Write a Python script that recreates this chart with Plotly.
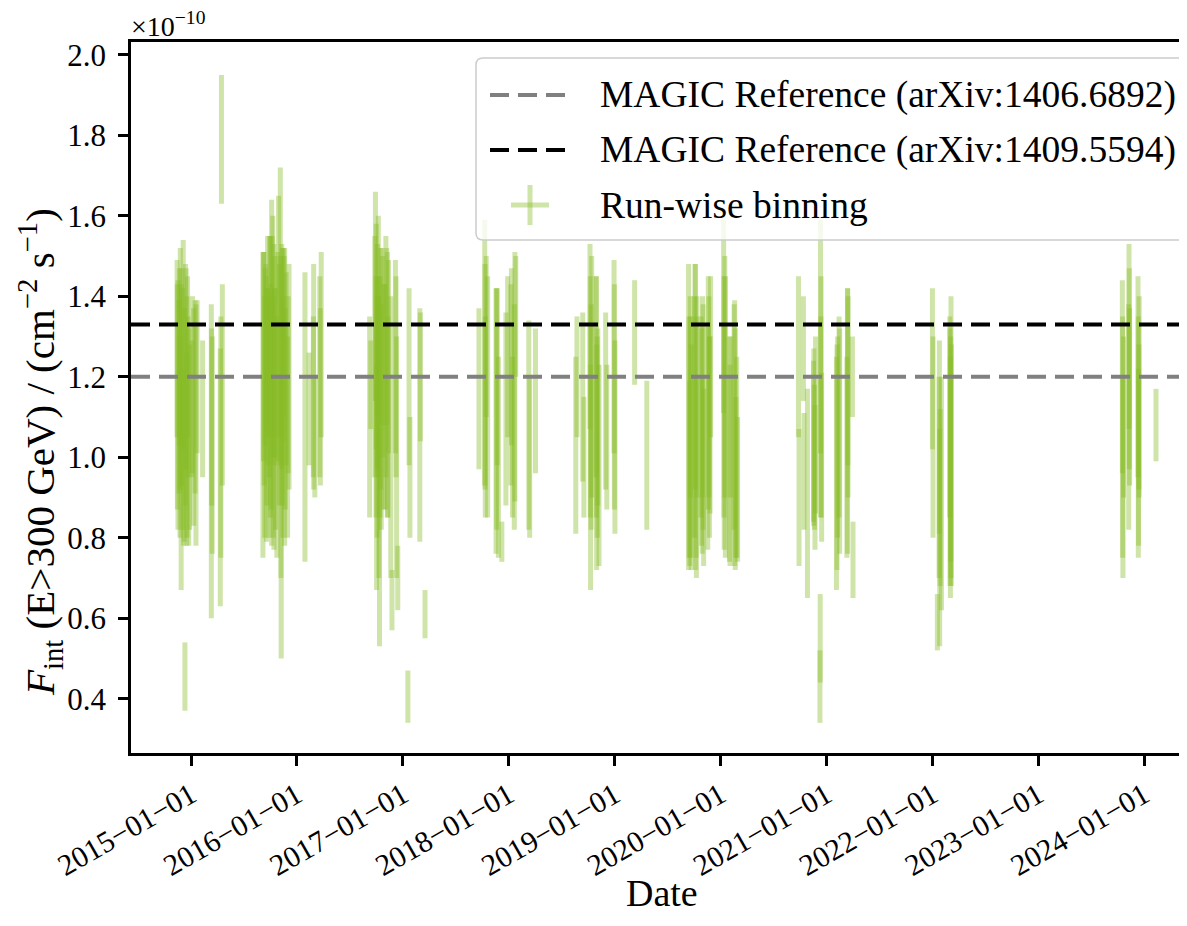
import plotly.graph_objects as go

# ---------------- data (flux in units of 1e-10 cm^-2 s^-1) ----------------
run_dates = [
    # 2014/15
    "2014-11-14", "2014-11-17", "2014-11-21", "2014-11-25", "2014-11-28", "2014-12-05",
    "2014-12-09", "2014-12-11", "2014-12-13", "2014-12-18", "2014-12-22", "2014-12-27",
    "2015-01-04", "2015-01-10", "2015-01-18", "2015-01-22", "2015-02-10", "2015-03-12",
    "2015-03-15", "2015-04-12", "2015-04-16", "2015-04-19",
    "2014-11-15", "2014-11-22", "2014-11-24", "2014-11-29", "2014-12-03", "2014-12-06",
    "2014-12-15", "2014-12-17", "2014-12-20", "2014-12-24", "2015-01-06", "2015-01-15",
    "2015-03-13", "2015-04-14",
    # 2015/16
    "2015-09-06", "2015-09-10", "2015-09-14", "2015-09-18", "2015-09-22", "2015-09-27",
    "2015-10-02", "2015-10-06", "2015-10-10", "2015-10-14", "2015-10-18", "2015-10-24",
    "2015-10-30", "2015-11-05", "2015-11-07", "2015-11-08", "2015-11-12", "2015-11-16",
    "2015-11-20", "2015-11-25", "2015-11-30", "2015-12-05", "2016-01-29", "2016-02-12",
    "2016-02-28", "2016-03-03", "2016-03-20", "2016-03-25",
    "2015-09-08", "2015-09-12", "2015-09-16", "2015-09-20", "2015-09-24", "2015-09-29",
    "2015-10-04", "2015-10-08", "2015-10-12", "2015-10-16", "2015-10-20", "2015-10-27",
    "2015-11-02", "2015-11-10", "2015-11-14", "2015-11-18", "2015-11-22", "2015-12-02",
    "2016-02-27", "2016-03-22",
    # 2016/17
    "2016-09-08", "2016-09-12", "2016-09-28", "2016-09-30", "2016-10-02", "2016-10-05",
    "2016-10-08", "2016-10-10", "2016-10-12", "2016-10-16", "2016-10-20", "2016-10-26",
    "2016-11-03", "2016-11-08", "2016-11-12", "2016-11-20", "2016-11-24", "2016-12-06",
    "2016-12-10", "2016-12-14", "2017-01-18", "2017-01-22", "2017-01-25", "2017-02-28",
    "2017-03-02", "2017-03-18",
    "2016-09-26", "2016-10-01", "2016-10-04", "2016-10-07", "2016-10-14", "2016-10-18",
    "2016-10-23", "2016-11-01", "2016-11-06", "2016-11-10", "2016-12-08",
    # 2017/18
    "2017-09-20", "2017-10-10", "2017-10-12", "2017-10-15", "2017-10-20", "2017-11-18",
    "2017-11-22", "2017-11-26", "2017-12-08", "2017-12-22", "2017-12-28", "2018-01-08",
    "2018-01-14", "2018-01-22", "2018-01-25", "2018-03-11", "2018-03-14", "2018-04-03",
    "2017-10-11", "2017-11-20", "2018-01-10", "2018-01-20",
    # 2018/19
    "2018-08-20", "2018-08-24", "2018-09-13", "2018-09-17", "2018-10-08", "2018-10-10",
    "2018-10-14", "2018-10-29", "2018-10-31", "2018-11-04", "2018-11-08", "2018-12-01",
    "2018-12-05", "2018-12-30", "2019-01-02", "2019-03-11", "2019-04-22",
    "2018-10-09", "2018-10-12", "2018-10-30", "2018-11-02", "2018-12-31",
    # 2019/20
    "2019-09-13", "2019-09-17", "2019-09-20", "2019-10-05", "2019-10-07", "2019-10-10",
    "2019-10-28", "2019-10-31", "2019-11-04", "2019-11-20", "2019-11-24", "2019-11-28",
    "2020-01-12", "2020-01-14", "2020-01-16", "2020-02-01", "2020-02-05", "2020-02-19",
    "2020-02-23", "2020-02-29",
    "2019-09-15", "2019-09-19", "2019-09-22", "2019-10-03", "2019-10-09", "2019-10-12",
    "2019-10-26", "2019-10-30", "2019-11-02", "2019-11-18", "2019-11-22", "2019-11-26",
    "2020-01-13", "2020-01-18", "2020-02-03", "2020-02-17", "2020-02-21", "2020-02-26",
    # 2020/21
    "2020-09-26", "2020-09-28", "2020-10-13", "2020-10-15", "2020-10-27", "2020-11-17",
    "2020-11-20", "2020-11-24", "2020-12-09", "2020-12-10", "2020-12-11", "2020-12-13",
    "2020-12-15", "2021-02-04", "2021-02-08", "2021-02-15", "2021-03-14", "2021-03-16",
    "2021-03-31", "2021-04-02",
    "2020-11-18", "2020-11-22", "2020-12-12", "2021-02-06", "2021-02-13", "2021-03-12",
    "2021-03-15",
    # 2021/22
    "2022-01-01", "2022-01-03", "2022-01-18", "2022-01-25", "2022-01-26", "2022-02-01",
    "2022-03-02", "2022-03-04", "2022-03-06",
    "2022-01-24", "2022-01-28", "2022-03-03", "2022-03-05", "2022-03-07",
    # 2023/24
    "2023-10-18", "2023-10-20", "2023-10-22", "2023-11-10", "2023-11-12", "2023-12-11",
    "2023-12-13", "2023-12-14", "2024-02-11",
    "2023-10-19", "2023-11-09", "2023-11-11", "2023-12-12", "2023-12-15",
]

run_flux = [
    # 2014/15
    1.27, 1.13, 1.15, 1.22, 1.05, 1.28,
    1.08, 0.455, 1.18, 1.10, 1.15, 1.05,
    1.12, 1.10, 1.08, 1.20, 1.12, 0.99,
    1.03, 0.95, 1.79, 1.18,
    1.15, 1.25, 1.05, 1.20, 1.12, 1.00,
    1.22, 1.02, 1.25, 1.05, 1.18, 1.15,
    1.10, 1.05,
    # 2015/16
    1.13, 1.22, 1.25, 1.12, 1.30, 1.10,
    1.20, 1.21, 1.30, 1.15, 1.25, 1.05,
    1.35, 1.35, 1.10, 0.85, 1.20, 1.28,
    1.15, 1.22, 1.05, 1.20, 1.10, 1.12,
    1.20, 1.05, 1.20, 1.28,
    1.25, 1.10, 1.28, 1.15, 1.20, 1.25,
    1.15, 1.30, 1.10, 1.20, 1.12, 1.25,
    1.18, 1.25, 1.10, 1.30, 1.12, 1.18,
    1.15, 1.15,
    # 2016/17
    1.10, 1.18, 1.40, 1.15, 0.95, 1.25,
    1.35, 1.05, 0.80, 1.22, 1.30, 1.15,
    1.25, 1.18, 1.25, 1.05, 0.645, 1.25,
    1.00, 0.70, 0.405, 1.20, 0.95, 1.08,
    1.20, 0.61,
    1.25, 1.30, 1.10, 1.20, 1.15, 1.10,
    1.25, 1.15, 1.30, 1.10, 1.20,
    # 2017/18
    1.17, 1.26, 1.10, 1.30, 1.15, 1.09,
    1.20, 1.00, 0.79, 1.12, 1.25, 1.18,
    1.05, 1.20, 1.35, 1.08, 1.00, 1.14,
    1.20, 1.12, 1.25, 1.10,
    # 2018/19
    1.03, 1.20, 1.15, 1.00, 1.30, 0.95,
    1.20, 1.20, 1.00, 1.10, 0.98, 1.14,
    1.05, 1.25, 1.05, 1.31, 1.005,
    1.15, 1.10, 1.15, 1.05, 1.15,
    # 2019/20
    1.10, 0.96, 1.05, 1.20, 1.10, 0.95,
    1.05, 1.15, 0.95, 1.16, 1.05, 1.25,
    1.35, 1.05, 1.20, 1.02, 1.10, 1.06,
    0.95, 0.92,
    1.05, 1.15, 1.00, 1.10, 1.05, 1.15,
    1.10, 0.98, 1.10, 1.05, 1.15, 1.08,
    1.15, 1.10, 0.98, 1.10, 1.02, 1.00,
    # 2020/21
    1.25, 0.90, 1.27, 0.965, 0.91, 1.04,
    1.00, 1.08, 0.43, 0.55, 1.30, 1.15,
    1.00, 0.96, 1.05, 1.04, 1.09, 1.15,
    1.20, 0.745,
    1.05, 0.95, 1.10, 1.00, 1.10, 1.00,
    1.20,
    # 2021/22
    1.22, 1.05, 0.59, 1.05, 0.80, 0.91,
    1.10, 0.95, 1.05,
    0.95, 0.90, 1.00, 1.02, 0.98,
    # 2023/24
    1.20, 0.95, 1.10, 1.30, 1.15, 1.20,
    1.00, 1.10, 1.08,
    1.05, 1.10, 1.22, 1.05, 1.15,
]

run_flux_err = [
    # 2014/15
    0.22, 0.31, 0.24, 0.30, 0.38, 0.26,
    0.29, 0.085, 0.30, 0.30, 0.20, 0.23,
    0.17, 0.27, 0.30, 0.19, 0.17, 0.39,
    0.27, 0.32, 0.16, 0.25,
    0.28, 0.22, 0.25, 0.27, 0.30, 0.22,
    0.25, 0.24, 0.20, 0.27, 0.22, 0.24,
    0.22, 0.30,
    # 2015/16
    0.38, 0.29, 0.22, 0.33, 0.25, 0.30,
    0.35, 0.43, 0.30, 0.38, 0.25, 0.30,
    0.30, 0.37, 0.40, 0.35, 0.32, 0.24,
    0.37, 0.24, 0.25, 0.28, 0.36, 0.14,
    0.28, 0.15, 0.25, 0.23,
    0.26, 0.30, 0.20, 0.27, 0.22, 0.30,
    0.28, 0.25, 0.30, 0.22, 0.30, 0.26,
    0.30, 0.28, 0.30, 0.20, 0.25, 0.22,
    0.20, 0.22,
    # 2016/17
    0.25, 0.11, 0.26, 0.30, 0.28, 0.28,
    0.25, 0.35, 0.27, 0.30, 0.22, 0.28,
    0.30, 0.33, 0.24, 0.35, 0.075, 0.24,
    0.30, 0.08, 0.065, 0.22, 0.15, 0.29,
    0.16, 0.06,
    0.30, 0.28, 0.30, 0.25, 0.30, 0.28,
    0.25, 0.28, 0.22, 0.25, 0.25,
    # 2017/18
    0.20, 0.33, 0.25, 0.20, 0.30, 0.33,
    0.22, 0.25, 0.05, 0.24, 0.20, 0.25,
    0.20, 0.31, 0.15, 0.26, 0.20, 0.18,
    0.28, 0.30, 0.22, 0.28,
    # 2018/19
    0.22, 0.15, 0.21, 0.15, 0.23, 0.28,
    0.30, 0.25, 0.28, 0.22, 0.25, 0.22,
    0.18, 0.24, 0.24, 0.13, 0.185,
    0.30, 0.28, 0.30, 0.25, 0.28,
    # 2019/20
    0.38, 0.23, 0.30, 0.28, 0.38, 0.25,
    0.27, 0.25, 0.22, 0.29, 0.25, 0.20,
    0.24, 0.28, 0.30, 0.28, 0.20, 0.33,
    0.20, 0.18,
    0.30, 0.25, 0.28, 0.30, 0.30, 0.25,
    0.25, 0.22, 0.28, 0.28, 0.25, 0.22,
    0.30, 0.35, 0.25, 0.28, 0.30, 0.25,
    # 2020/21
    0.20, 0.17, 0.13, 0.145, 0.26, 0.20,
    0.18, 0.22, 0.09, 0.11, 0.29, 0.30,
    0.21, 0.29, 0.25, 0.28, 0.33, 0.25,
    0.10, 0.095,
    0.22, 0.18, 0.25, 0.28, 0.25, 0.25,
    0.22,
    # 2021/22
    0.20, 0.25, 0.07, 0.24, 0.27, 0.29,
    0.25, 0.30, 0.35,
    0.25, 0.22, 0.32, 0.28, 0.30,
    # 2023/24
    0.24, 0.25, 0.20, 0.23, 0.22, 0.25,
    0.22, 0.18, 0.09,
    0.30, 0.28, 0.25, 0.30, 0.25,
]

assert len(run_dates) == len(run_flux) == len(run_flux_err)

ref_labels = ["MAGIC Reference (arXiv:1406.6892)", "MAGIC Reference (arXiv:1409.5594)"]
ref_values = [1.20, 1.33]
series_label = "Run-wise binning"

tick_years = [2015, 2016, 2017, 2018, 2019, 2020, 2021, 2022, 2023, 2024]
y_ticks = [0.4, 0.6, 0.8, 1.0, 1.2, 1.4, 1.6, 1.8, 2.0]

# ---------------- styling ----------------
OFF = 8                      # page body margin of the html page
W, H = 1187 - OFF, 926 - OFF
L_PX, R_PX, T_PX, B_PX = 131, 1187, 42, 753   # plot area in screen pixels
FONT = "Liberation Serif"
GREEN = "rgba(134,188,37,0.4)"
REF_COLORS = ["#808080", "#000000"]
DASH = "19px,9px"


def px_x(p):
    return (p - L_PX) / (R_PX - L_PX)


def px_y(p):
    return (B_PX - p) / (B_PX - T_PX)


fig = go.Figure()

fig.add_trace(go.Scatter(
    x=run_dates, y=run_flux, mode="markers",
    marker=dict(size=1, color=GREEN, opacity=0),
    error_y=dict(type="data", array=run_flux_err, visible=True,
                 color=GREEN, thickness=5, width=0),
    name=series_label, showlegend=False, hoverinfo="x+y",
))

shapes = []
for val, col in zip(ref_values, REF_COLORS):
    shapes.append(dict(type="line", xref="paper", x0=0, x1=1, yref="y", y0=val, y1=val,
                       line=dict(color=col, width=4, dash=DASH), layer="above"))

# legend box (rounded, semi-transparent)
bx0, bx1, by0, by1, r = 476, 1185, 58, 240, 7


def rr_path(x0, x1, y0, y1, r):
    pts = [
        f"M {px_x(x0 + r)},{px_y(y0)}",
        f"L {px_x(x1 - r)},{px_y(y0)}",
        f"Q {px_x(x1)},{px_y(y0)} {px_x(x1)},{px_y(y0 + r)}",
        f"L {px_x(x1)},{px_y(y1 - r)}",
        f"Q {px_x(x1)},{px_y(y1)} {px_x(x1 - r)},{px_y(y1)}",
        f"L {px_x(x0 + r)},{px_y(y1)}",
        f"Q {px_x(x0)},{px_y(y1)} {px_x(x0)},{px_y(y1 - r)}",
        f"L {px_x(x0)},{px_y(y0 + r)}",
        f"Q {px_x(x0)},{px_y(y0)} {px_x(x0 + r)},{px_y(y0)}",
        "Z",
    ]
    return " ".join(pts)


shapes.append(dict(type="path", xref="paper", yref="paper", path=rr_path(bx0, bx1, by0, by1, r),
                   fillcolor="rgba(255,255,255,0.8)", line=dict(color="#cccccc", width=1.5),
                   layer="above"))

rows_y = [95, 150, 205]
for ry, col in zip(rows_y[:2], REF_COLORS):
    shapes.append(dict(type="line", xref="paper", yref="paper",
                       x0=px_x(490), x1=px_x(570), y0=px_y(ry), y1=px_y(ry),
                       line=dict(color=col, width=4, dash=DASH), layer="above"))
# plus symbol for run-wise binning
shapes.append(dict(type="line", xref="paper", yref="paper",
                   x0=px_x(511), x1=px_x(549), y0=px_y(rows_y[2]), y1=px_y(rows_y[2]),
                   line=dict(color=GREEN, width=5), layer="above"))
shapes.append(dict(type="line", xref="paper", yref="paper",
                   x0=px_x(530), x1=px_x(530), y0=px_y(rows_y[2] - 20), y1=px_y(rows_y[2] + 20),
                   line=dict(color=GREEN, width=5), layer="above"))

annotations = []
for ry, txt in zip(rows_y, ref_labels + [series_label]):
    annotations.append(dict(xref="paper", yref="paper", x=px_x(598), y=px_y(ry),
                            xanchor="left", yanchor="middle", text=txt, showarrow=False,
                            font=dict(family=FONT, size=37.5, color="black")))

# axis titles and exponent label
annotations.append(dict(xref="paper", yref="paper", x=px_x(40), y=px_y(452),
                        xanchor="center", yanchor="middle", textangle=-90, showarrow=False,
                        text="<i>F</i><sub>int</sub> (E>300 GeV) / (cm<sup>−2</sup> s<sup>−1</sup>)",
                        font=dict(family=FONT, size=41, color="black")))
annotations.append(dict(xref="paper", yref="paper", x=px_x(662), y=px_y(893),
                        xanchor="center", yanchor="middle", showarrow=False,
                        text="Date",
                        font=dict(family=FONT, size=38, color="black")))
annotations.append(dict(xref="paper", yref="paper", x=px_x(129), y=px_y(44),
                        xanchor="left", yanchor="bottom", showarrow=False,
                        text="×10<sup>−10</sup>",
                        font=dict(family=FONT, size=28, color="black")))

fig.update_layout(
    width=W, height=H,
    margin=dict(l=L_PX - OFF, r=W - (R_PX - OFF), t=T_PX - OFF, b=H - (B_PX - OFF), pad=0),
    paper_bgcolor="white", plot_bgcolor="white",
    showlegend=False,
    shapes=shapes, annotations=annotations,
    font=dict(family=FONT, color="black"),
)

fig.update_xaxes(
    type="date", range=["2014-06-08", "2024-05-28"],
    tickvals=[f"{y}-01-01" for y in tick_years],
    ticktext=[f"{y}−01−01" for y in tick_years],
    tickangle=-30, tickfont=dict(family=FONT, size=30, color="black"),
    ticks="outside", ticklen=10, tickwidth=2.5, tickcolor="black",
    showline=True, linecolor="black", linewidth=2.5, mirror=True,
    showgrid=False, zeroline=False,
)
fig.update_yaxes(
    range=[0.265, 2.032],
    tickvals=y_ticks, ticktext=[f"{v:.1f}" for v in y_ticks],
    tickfont=dict(family=FONT, size=31, color="black"),
    ticks="outside", ticklen=10, tickwidth=2.5, tickcolor="black",
    ticklabelstandoff=6,
    showline=True, linecolor="black", linewidth=2.5, mirror=False,
    showgrid=False, zeroline=False,
)

fig.write_html("out.html")
